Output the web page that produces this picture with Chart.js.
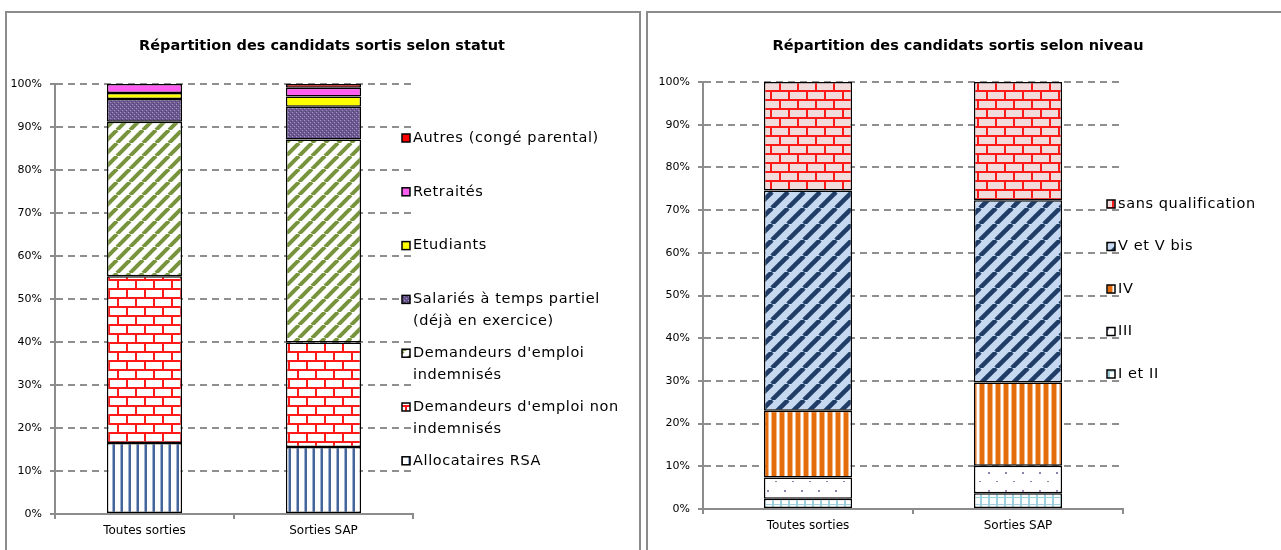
<!DOCTYPE html>
<html>
<head>
<meta charset="utf-8">
<script src="https://cdn.jsdelivr.net/npm/chart.js@4/dist/chart.umd.min.js"></script>
<style>
  html, body { margin: 0; padding: 0; background: #fff; overflow: hidden; }
  body { width: 1281px; height: 550px; position: relative; }
  canvas { position: absolute; top: 0; }
  #statutChart { left: 0; }
  #niveauChart { left: 644px; }
</style>
</head>
<body>
<canvas id="statutChart" width="644" height="550"></canvas>
<canvas id="niveauChart" width="637" height="550"></canvas>
<script>
// ---- Data ----
const categories = ['Toutes sorties', 'Sorties SAP'];
const yTicks = [0, 10, 20, 30, 40, 50, 60, 70, 80, 90, 100];

// chart 1 : statut (bottom to top)
const rsa = [16.5, 15.6];
const nonIndemnises = [38.8, 24.3];
const indemnises = [35.9, 47.2];
const salaries = [5.3, 7.6];
const etudiants = [1.4, 2.4];
const retraites = [2.1, 2.0];
const autres = [0, 0.9];

// chart 2 : niveau (bottom to top)
const niveauI_II = [2.4, 3.7];
const niveauIII = [5.0, 6.4];
const niveauIV = [15.6, 19.5];
const niveauV = [51.6, 42.7];
const sansQualif = [25.4, 27.7];

const FONT = '"DejaVu Sans", sans-serif';
Chart.defaults.font.family = FONT;
Chart.defaults.color = '#000';

// ---- Fill patterns ----

function tile(w, h, draw) {
  const c = document.createElement('canvas');
  c.width = w; c.height = h;
  const g = c.getContext('2d');
  draw(g, w, h);
  return document.createElement('canvas').getContext('2d').createPattern(c, 'repeat');
}

function vStripes(bg, edge, main, w) {
  return tile(w, 8, (g, tw, th) => {
    g.fillStyle = bg; g.fillRect(0, 0, tw, th);
    g.fillStyle = edge; g.fillRect(0, 0, 1, th);
    g.fillStyle = main; g.fillRect(1, 0, 2, th);
  });
}

function bricks(bg, mortar) {
  return tile(18, 18, (g) => {
    g.fillStyle = bg; g.fillRect(0, 0, 18, 18);
    g.fillStyle = mortar;
    g.fillRect(0, 0, 18, 2);
    g.fillRect(0, 9, 18, 2);
    g.fillRect(0, 0, 2, 9);
    g.fillRect(9, 9, 2, 9);
  });
}

function diagonal(bg, fg, size, width) {
  return tile(size, size, (g) => {
    g.fillStyle = bg; g.fillRect(0, 0, size, size);
    g.strokeStyle = fg; g.lineWidth = width;
    for (let k = -1; k <= 1; k++) {
      g.beginPath();
      g.moveTo(k * size, size);
      g.lineTo(k * size + size, 0);
      g.stroke();
    }
  });
}

const purpleTexture = tile(4, 4, (g) => {
  g.fillStyle = '#6b5890'; g.fillRect(0, 0, 4, 4);
  g.fillStyle = '#a797c2'; g.fillRect(0, 0, 1, 1); g.fillRect(2, 2, 1, 1);
  g.fillStyle = '#54437a'; g.fillRect(1, 3, 1, 1); g.fillRect(3, 1, 1, 1);
});

const orangeStripes = tile(8, 8, (g) => {
  g.fillStyle = '#e46c0a'; g.fillRect(0, 0, 8, 8);
  g.fillStyle = '#ffffff'; g.fillRect(5, 0, 2, 8);
  g.fillStyle = '#f3b98a'; g.fillRect(4, 0, 1, 8); g.fillRect(7, 0, 1, 8);
});

const dots = tile(17, 18, (g) => {
  g.fillStyle = '#ffffff'; g.fillRect(0, 0, 17, 18);
  g.fillStyle = '#8f82ad';
  g.fillRect(4, 4, 2, 2);
  g.fillRect(12, 13, 2, 1);
});

const blueGrid = tile(8, 7, (g) => {
  g.fillStyle = '#ffffff'; g.fillRect(0, 0, 8, 7);
  g.fillStyle = '#9ad0de';
  g.fillRect(0, 0, 2, 7);
  g.fillRect(0, 0, 8, 1);
});

// ---- Legend / title / frame plugin ----

function wrapText(ctx, text, maxW) {
  const words = text.split(' ');
  const lines = [];
  let cur = '';
  words.forEach(w => {
    const t = cur ? cur + ' ' + w : w;
    if (cur && ctx.measureText(t).width > maxW) { lines.push(cur); cur = w; }
    else cur = t;
  });
  if (cur) lines.push(cur);
  return lines;
}

const decorPlugin = {
  id: 'decor',
  afterDraw(chart, args, o) {
    const ctx = chart.ctx;
    ctx.save();
    // frame
    ctx.strokeStyle = '#8c8c8c';
    ctx.lineWidth = 2;
    ctx.strokeRect(o.frame[0], o.frame[1], o.frame[2], o.frame[3]);
    // title
    ctx.fillStyle = '#000';
    ctx.font = 'bold 14.5px ' + FONT;
    ctx.textAlign = 'center';
    ctx.textBaseline = 'middle';
    ctx.fillText(o.title, o.titleX, o.titleY);
    // legend, reversed order
    ctx.font = '14.5px ' + FONT;
    ctx.letterSpacing = '0.6px';
    ctx.textAlign = 'left';
    const ds = chart.data.datasets;
    ds.slice().reverse().forEach((d, i) => {
      const y = o.legendY + i * o.legendStep;
      ctx.fillStyle = d.backgroundColor;
      ctx.fillRect(o.legendX, y - 4, 8, 8);
      ctx.strokeStyle = '#000';
      ctx.lineWidth = 1.5;
      ctx.strokeRect(o.legendX, y - 4, 8, 8);
      ctx.fillStyle = '#000';
      wrapText(ctx, d.label, o.wrap).forEach((line, j) => {
        ctx.fillText(line, o.legendX + 11, y + j * o.lineH);
      });
    });
    ctx.restore();
  }
};

function makeOptions(padRight, padTop, yWidth, xHeight, decor) {
  return {
    responsive: false,
    animation: false,
    devicePixelRatio: 1,
    layout: { padding: { left: 0, top: padTop, right: padRight, bottom: 0 } },
    plugins: {
      legend: { display: false },
      title: { display: false },
      tooltip: { enabled: false },
      decor: decor,
    },
    datasets: { bar: { categoryPercentage: 1, barPercentage: 0.42, borderColor: '#000', borderWidth: 1.5, borderSkipped: false } },
    scales: {
      x: {
        stacked: true,
        grid: { offset: true, drawOnChartArea: false, drawTicks: true, tickLength: 5, color: '#8c8c8c', lineWidth: 2 },
        border: { display: true, color: '#8c8c8c', width: 2 },
        ticks: { font: { size: 12 }, color: '#000', padding: 5 },
        afterFit: s => { s.height = xHeight; },
      },
      y: {
        stacked: true,
        min: 0, max: 100,
        afterBuildTicks: s => { s.ticks = yTicks.map(v => ({ value: v })); },
        grid: { color: '#8f8f8f', lineWidth: 2, tickBorderDash: [], tickLength: 5, tickColor: '#8c8c8c' },
        border: { display: true, color: '#8c8c8c', width: 2, dash: [7, 5] },
        ticks: { font: { size: 11 }, color: '#000', padding: 8, callback: v => v + '%' },
        afterFit: s => { s.width = yWidth; },
      },
    },
  };
}

new Chart(document.getElementById('statutChart'), {
  type: 'bar',
  data: {
    labels: categories,
    datasets: [
      { label: 'Allocataires RSA', data: rsa, backgroundColor: vStripes('#ffffff', '#9db2d2', '#44649a', 8) },
      { label: "Demandeurs d'emploi non indemnisés", data: nonIndemnises, backgroundColor: bricks('#ffffff', '#ff1a1a') },
      { label: "Demandeurs d'emploi indemnisés", data: indemnises, backgroundColor: diagonal('#ffffff', '#77933c', 13, 4) },
      { label: 'Salariés à temps partiel (déjà en exercice)', data: salaries, backgroundColor: purpleTexture },
      { label: 'Etudiants', data: etudiants, backgroundColor: '#ffff00' },
      { label: 'Retraités', data: retraites, backgroundColor: '#ff5cf0' },
      { label: 'Autres (congé parental)', data: autres, backgroundColor: '#ff0000' },
    ]
  },
  options: makeOptions(231, 84, 55, 36, {
    frame: [6, 12, 634, 600],
    title: 'Répartition des candidats sortis selon statut',
    titleX: 322, titleY: 46,
    legendX: 402, legendY: 138, legendStep: 53.8, lineH: 22, wrap: 215,
  }),
  plugins: [decorPlugin],
});

new Chart(document.getElementById('niveauChart'), {
  type: 'bar',
  data: {
    labels: categories,
    datasets: [
      { label: 'I et II', data: niveauI_II, backgroundColor: blueGrid },
      { label: 'III', data: niveauIII, backgroundColor: dots },
      { label: 'IV', data: niveauIV, backgroundColor: orangeStripes },
      { label: 'V et V bis', data: niveauV, backgroundColor: diagonal('#c6d9f1', '#1f3d66', 16, 4.5) },
      { label: 'sans qualification', data: sansQualif, backgroundColor: bricks('#f2dcdb', '#ff1a1a') },
    ]
  },
  options: makeOptions(158, 82, 59, 41, {
    frame: [3, 12, 700, 600],
    title: 'Répartition des candidats sortis selon niveau',
    titleX: 314, titleY: 46,
    legendX: 463, legendY: 204, legendStep: 42.5, lineH: 22, wrap: 200,
  }),
  plugins: [decorPlugin],
});
</script>
</body>
</html>
